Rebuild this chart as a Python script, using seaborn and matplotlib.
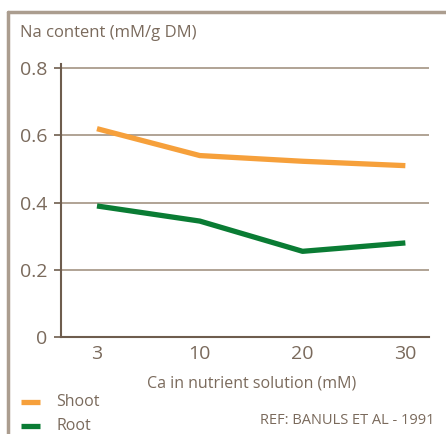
import matplotlib
matplotlib.use("Agg")
import matplotlib.pyplot as plt
import seaborn as sns
import pandas as pd
from matplotlib.lines import Line2D

categories = ["3", "10", "20", "30"]
shoot = [0.62, 0.54, 0.523, 0.51]
root = [0.39, 0.345, 0.255, 0.28]
yticks = [0, 0.2, 0.4, 0.6, 0.8]
ytick_labels = ["0", "0.2", "0.4", "0.6", "0.8"]

sns.set_style("white")
plt.rcParams['font.family'] = ['Open Sans', 'DejaVu Sans']

text_c = "#7a6a5c"
grid_c = "#a39383"
spine_c = "#6e5d4e"
orange = "#F6A03B"
green = "#0A7C34"

df = pd.DataFrame({
    "pos": list(range(len(categories))) * 2,
    "value": shoot + root,
    "series": ["Shoot"] * len(shoot) + ["Root"] * len(root),
})

fig = plt.figure(figsize=(4.46, 4.34), dpi=100)
ax = fig.add_axes([61/446, 1 - 337/434, (429-61)/446, (337-64)/434])
sns.lineplot(data=df, x="pos", y="value", hue="series",
             palette={"Shoot": orange, "Root": green}, linewidth=3.8,
             legend=False, ax=ax, zorder=3, solid_capstyle="butt")
ax.set_xlim(-0.35, 3.23)
ax.set_ylim(0, 0.8125)
ax.set_yticks(yticks)
ax.set_yticklabels(ytick_labels)
ax.set_xticks(range(len(categories)))
ax.set_xticklabels(categories)
for y in yticks[1:]:
    ax.axhline(y, color=grid_c, lw=1.2, zorder=1)
for s in ["top", "right"]:
    ax.spines[s].set_visible(False)
for s in ["left", "bottom"]:
    ax.spines[s].set_color(spine_c)
    ax.spines[s].set_linewidth(1.5)
ax.tick_params(axis="y", length=5, width=1.2, color=spine_c, labelcolor=text_c, labelsize=14, pad=5, direction="out", left=True)
ax.tick_params(axis="x", length=0, labelcolor=text_c, labelsize=14, pad=6)
ax.set_xlabel("")
ax.set_ylabel("")

fig.text(20/446, 1 - 33/434, "Na content (mM/g DM)", color=text_c, fontsize=12, va="center", ha="left")
fig.text(252/446, 1 - 383/434, "Ca in nutrient solution (mM)", color=text_c, fontsize=11.5, va="center", ha="center")
fig.text(56/446, 1 - 402/434, "Shoot", color=text_c, fontsize=11.5, va="center", ha="left")
fig.text(56/446, 1 - 426/434, "Root", color=text_c, fontsize=11.5, va="center", ha="left")
fig.text(435/446, 1 - 420/434, "REF: BANULS ET AL - 1991", color=text_c, fontsize=10.5, va="center", ha="right")
fig.add_artist(Line2D([21/446, 40/446], [1 - 402/434] * 2, color=orange, lw=3.8, solid_capstyle="butt", transform=fig.transFigure))
fig.add_artist(Line2D([21/446, 40/446], [1 - 426/434] * 2, color=green, lw=3.8, solid_capstyle="butt", transform=fig.transFigure))

frame_c = "#ab9d8f"
fig.add_artist(Line2D([8/446, 1.0], [1 - 12/434] * 2, color=frame_c, lw=2.5, transform=fig.transFigure))
fig.add_artist(Line2D([8/446, 8/446], [0, 1 - 12/434], color=frame_c, lw=2.5, transform=fig.transFigure))

fig.savefig("out.png", dpi=100)
